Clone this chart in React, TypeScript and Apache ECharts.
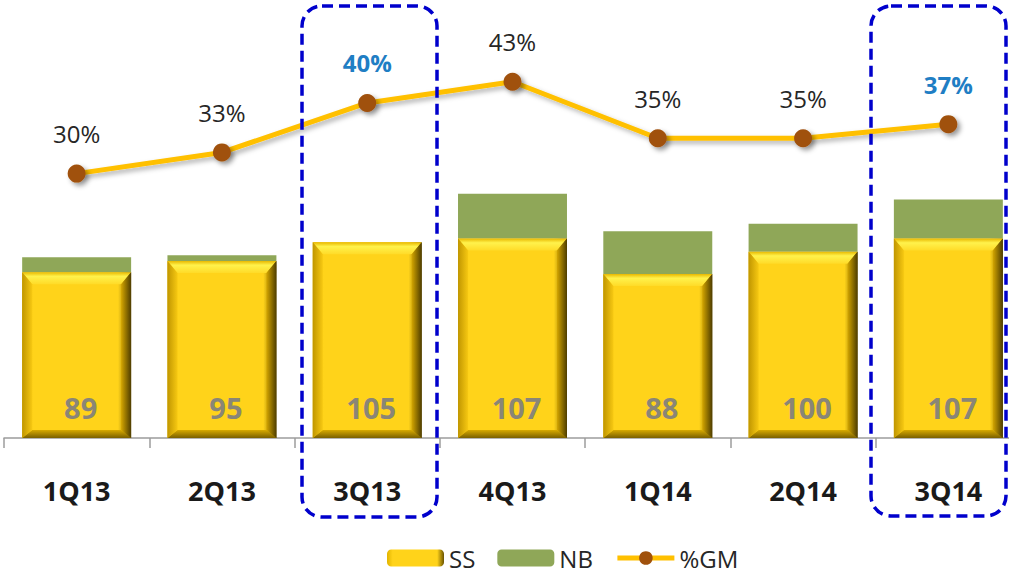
import React, { useEffect, useRef } from 'react';
import * as echarts from 'echarts';

const categories = ['1Q13', '2Q13', '3Q13', '4Q13', '1Q14', '2Q14', '3Q14'];
const ssValues = [89, 95, 105, 107, 88, 100, 107];
const nbValues = [8, 3, 0, 24, 23, 15, 21];
const gmValues = [30, 33, 40, 43, 35, 35, 37];
const highlighted = ['3Q13', '3Q14'];
const legendNames = ['SS', 'NB', '%GM'];

const FONT = '"Open Sans", "Noto Sans", sans-serif';

export default function App() {
  const ref = useRef<HTMLDivElement>(null);

  useEffect(() => {
    const chart = echarts.init(ref.current as HTMLDivElement, null, { renderer: 'svg' });
    const G = echarts.graphic.LinearGradient;

    const bevel = (params: any, api: any) => {
      const idx = api.value(0);
      const v = api.value(1);
      const topPt = api.coord([idx, v]);
      const botPt = api.coord([idx, 0]);
      const w = api.size([1, 0])[0] * 0.75;
      const x0 = topPt[0] - w / 2;
      const x1 = topPt[0] + w / 2;
      const y0 = topPt[1];
      const y1 = botPt[1];
      const bt = 12;
      const bs = 10;
      const bb = 8;
      return {
        type: 'group',
        children: [
          {
            type: 'polygon',
            shape: { points: [[x0, y0], [x1, y0], [x1 - bs, y0 + bt], [x0 + bs, y0 + bt]] },
            style: {
              fill: new G(0, 0, 0, 1, [
                { offset: 0, color: '#E8B800' },
                { offset: 0.35, color: '#FFF24C' },
                { offset: 1, color: '#FFDB28' },
              ]),
            },
          },
          {
            type: 'polygon',
            shape: { points: [[x1, y0], [x1, y1], [x1 - bs, y1 - bb], [x1 - bs, y0 + bt]] },
            style: {
              fill: new G(0, 0, 1, 0, [
                { offset: 0, color: '#D4A600' },
                { offset: 1, color: '#4E3D00' },
              ]),
            },
          },
          {
            type: 'polygon',
            shape: { points: [[x0, y1], [x1, y1], [x1 - bs, y1 - bb], [x0 + bs, y1 - bb]] },
            style: {
              fill: new G(0, 0, 0, 1, [
                { offset: 0, color: '#D8AA00' },
                { offset: 1, color: '#7A6000' },
              ]),
            },
          },
          {
            type: 'polygon',
            shape: { points: [[x0, y0], [x0 + bs, y0 + bt], [x0 + bs, y1 - bb], [x0, y1]] },
            style: {
              fill: new G(0, 0, 1, 0, [
                { offset: 0, color: '#C09600' },
                { offset: 1, color: '#F6C812' },
              ]),
            },
          },
        ],
      };
    };

    const option: any = {
      animation: false,
      textStyle: { fontFamily: FONT },
      grid: { left: 4, top: 28, width: 1017, height: 410, containLabel: false },
      legend: {
        data: [
          { name: legendNames[0] },
          { name: legendNames[1] },
          { name: legendNames[2], lineStyle: { width: 5 } },
        ],
        left: 382,
        top: 541,
        itemWidth: 57,
        itemHeight: 17,
        itemGap: 22,
        textStyle: { fontSize: 24, color: '#262626', fontFamily: FONT },
      },
      xAxis: {
        type: 'category',
        data: categories,
        axisLine: { show: true, lineStyle: { color: '#9c9c9c', width: 1.5 } },
        axisTick: { show: true, length: 10, lineStyle: { color: '#9c9c9c', width: 1.5 } },
        axisLabel: {
          fontSize: 27,
          fontWeight: 'bold',
          color: '#1a1a1a',
          margin: 39,
          fontFamily: FONT,
        },
        splitLine: { show: false },
      },
      yAxis: [
        { type: 'value', min: 0, max: 220, show: false, splitLine: { show: false } },
        { type: 'value', min: -7.4, max: 50.6, show: false, splitLine: { show: false } },
      ],
      series: [
        {
          name: 'SS',
          type: 'bar',
          stack: 'total',
          barWidth: '75%',
          z: 2,
          data: ssValues,
          itemStyle: {
            color: new G(0, 0, 1, 0, [
              { offset: 0, color: '#E2B400' },
              { offset: 0.1, color: '#FFD31A' },
              { offset: 0.88, color: '#FFD31A' },
              { offset: 1, color: '#6A5300' },
            ]),
          },
          label: {
            show: true,
            position: 'insideBottom',
            distance: 16,
            offset: [4, 0],
            fontSize: 29,
            fontWeight: 'bold',
            color: '#8a8676',
            fontFamily: FONT,
          },
        },
        {
          name: 'NB',
          type: 'bar',
          stack: 'total',
          barWidth: '75%',
          z: 2,
          data: nbValues,
          itemStyle: { color: '#8FA758' },
        },
        {
          name: 'bevel',
          type: 'custom',
          renderItem: bevel,
          data: ssValues.map((v, i) => [i, v]),
          encode: { x: 0, y: 1 },
          z: 3,
          silent: true,
          tooltip: { show: false },
        },
        {
          name: '%GM',
          type: 'line',
          yAxisIndex: 1,
          z: 5,
          symbol: 'circle',
          symbolSize: 18,
          data: gmValues.map((v, i) =>
            highlighted.includes(categories[i])
              ? { value: v, label: { color: '#1F7EC4', fontWeight: 'bold' } }
              : v
          ),
          lineStyle: {
            color: '#FFC000',
            width: 5,
            shadowColor: 'rgba(0,0,0,0.3)',
            shadowBlur: 5,
            shadowOffsetX: 3,
            shadowOffsetY: 3,
          },
          itemStyle: {
            color: '#A0510C',
            shadowColor: 'rgba(0,0,0,0.4)',
            shadowBlur: 5,
            shadowOffsetX: 3,
            shadowOffsetY: 3,
          },
          label: {
            show: true,
            position: 'top',
            distance: 19,
            formatter: '{c}%',
            fontSize: 24,
            color: '#262626',
            fontFamily: FONT,
          },
        },
      ],
      graphic: [
        {
          type: 'rect',
          z: 100,
          shape: { x: 302, y: 6, width: 135, height: 511, r: 20 },
          style: { fill: 'none', stroke: '#0000CC', lineWidth: 3.5, lineDash: [11, 6] },
        },
        {
          type: 'rect',
          z: 100,
          shape: { x: 871, y: 6, width: 135, height: 510, r: 20 },
          style: { fill: 'none', stroke: '#0000CC', lineWidth: 3.5, lineDash: [11, 6] },
        },
      ],
    };

    chart.setOption(option);
    return () => chart.dispose();
  }, []);

  return (
    <div
      style={{
        position: 'absolute',
        left: 0,
        top: 0,
        width: 1009,
        height: 576,
        overflow: 'hidden',
        background: '#ffffff',
      }}
    >
      <div ref={ref} style={{ width: 1024, height: 576 }} />
    </div>
  );
}
